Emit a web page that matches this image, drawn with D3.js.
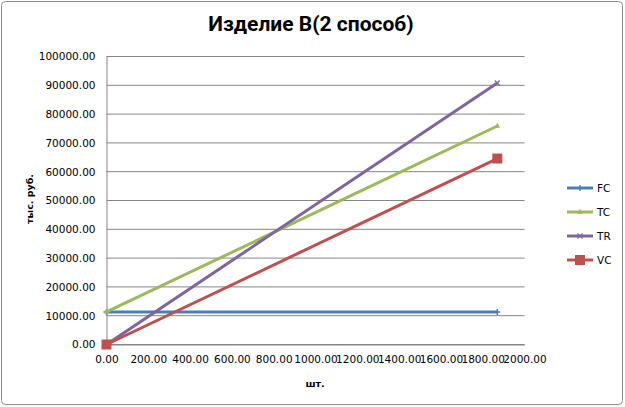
<!DOCTYPE html>
<html>
<head>
<meta charset="utf-8">
<script src="https://cdn.jsdelivr.net/npm/d3@7"></script>
<style>
  body { margin: 0; background: #fff; }
  text { fill: #000; }
</style>
</head>
<body>
<svg id="chart" width="625" height="407" font-family="DejaVu Sans, sans-serif"></svg>
<script>
// values
var quantities = [0, 1870];
var seriesNames = ['FC', 'TC', 'TR', 'VC'];
var fcValues = [11300, 11300];
var tcValues = [11300, 75870];
var trValues = [0, 90800];
var vcValues = [0, 64570];
var yTicks = [0, 10000, 20000, 30000, 40000, 50000, 60000, 70000, 80000, 90000, 100000];
var xTicks = [0, 200, 400, 600, 800, 1000, 1200, 1400, 1600, 1800, 2000];

var colors = { FC: '#4a7ebb', TC: '#9bbb59', TR: '#8064a2', VC: '#c0504d' };
var markers = { FC: 'plus', TC: 'triangle', TR: 'x', VC: 'square' };
var valuesOf = { FC: fcValues, TC: tcValues, TR: trValues, VC: vcValues };

var svg = d3.select('#chart');

// outer frame
svg.append('rect')
    .attr('x', 1.5).attr('y', 1.5)
    .attr('width', 621).attr('height', 403)
    .attr('rx', 4)
    .attr('fill', '#fff')
    .attr('stroke', '#8c8c8c');

var x = d3.scaleLinear().domain([0, 2000]).range([106.5, 524.5]);
var y = d3.scaleLinear().domain([0, 100000]).range([344.5, 56.5]);

// gridlines
svg.append('g').selectAll('line')
    .data(yTicks)
    .enter().append('line')
    .attr('x1', x(0)).attr('x2', x(2000))
    .attr('y1', function (d) { return y(d); })
    .attr('y2', function (d) { return y(d); })
    .attr('stroke', '#868686');

// y axis
var yAxis = d3.axisLeft(y)
    .tickValues(yTicks)
    .tickSize(0)
    .tickPadding(11)
    .tickFormat(d3.format('.2f'));
var gy = svg.append('g')
    .attr('transform', 'translate(' + x(0) + ',0)')
    .call(yAxis);
gy.select('.domain').attr('stroke', '#868686');
gy.attr('font-size', 10.5).attr('font-family', 'DejaVu Sans, sans-serif');

// x axis
var xAxis = d3.axisBottom(x)
    .tickValues(xTicks)
    .tickSize(0)
    .tickPadding(11)
    .tickFormat(d3.format('.2f'));
var gx = svg.append('g')
    .attr('transform', 'translate(0,' + y(0) + ')')
    .call(xAxis);
gx.select('.domain').attr('stroke', '#868686');
gx.attr('font-size', 10.5).attr('font-family', 'DejaVu Sans, sans-serif');

// markers
function drawMarker(g, type, cx, cy, color) {
    if (type === 'square') {
        g.append('rect')
            .attr('x', cx - 5).attr('y', cy - 5)
            .attr('width', 10).attr('height', 10)
            .attr('fill', color);
    } else if (type === 'triangle') {
        g.append('path')
            .attr('d', d3.symbol().type(d3.symbolTriangle).size(14)())
            .attr('transform', 'translate(' + cx + ',' + cy + ')')
            .attr('fill', color);
    } else if (type === 'plus') {
        g.append('path')
            .attr('d', 'M' + (cx - 3) + ',' + cy + 'H' + (cx + 3) + 'M' + cx + ',' + (cy - 3) + 'V' + (cy + 3))
            .attr('stroke', color).attr('stroke-width', 1.5);
    } else if (type === 'x') {
        g.append('path')
            .attr('d', 'M' + (cx - 2.5) + ',' + (cy - 2.5) + 'L' + (cx + 2.5) + ',' + (cy + 2.5) +
                'M' + (cx - 2.5) + ',' + (cy + 2.5) + 'L' + (cx + 2.5) + ',' + (cy - 2.5))
            .attr('stroke', color).attr('stroke-width', 1.2);
    }
}

var line = d3.line()
    .x(function (d, i) { return x(quantities[i]); })
    .y(function (d) { return y(d); });

var lines = svg.append('g');
seriesNames.forEach(function (name) {
    var vals = valuesOf[name];
    var g = lines.append('g');
    g.append('path')
        .attr('d', line(vals))
        .attr('fill', 'none')
        .attr('stroke', colors[name])
        .attr('stroke-width', 3);
    vals.forEach(function (v, i) {
        drawMarker(g, markers[name], x(quantities[i]), y(v), colors[name]);
    });
});

// legend
var legend = svg.append('g');
seriesNames.forEach(function (name, i) {
    var ly = 188 + i * 24;
    legend.append('line')
        .attr('x1', 567).attr('x2', 593)
        .attr('y1', ly).attr('y2', ly)
        .attr('stroke', colors[name])
        .attr('stroke-width', 3);
    drawMarker(legend, markers[name], 580, ly, colors[name]);
    legend.append('text')
        .attr('x', 597).attr('y', ly + 4)
        .attr('font-size', 10.5)
        .text(name);
});

// titles
svg.append('text')
    .attr('x', 311).attr('y', 31)
    .attr('text-anchor', 'middle')
    .style('font-family', 'Roboto, sans-serif')
    .style('font-weight', 'bold')
    .style('font-size', '21px')
    .text('Изделие В(2 способ)');

svg.append('text')
    .attr('transform', 'translate(33,199) rotate(-90)')
    .attr('text-anchor', 'middle')
    .attr('font-weight', 'bold')
    .attr('font-size', 9.5)
    .text('тыс.  руб.');

svg.append('text')
    .attr('x', 315).attr('y', 387)
    .attr('text-anchor', 'middle')
    .attr('font-weight', 'bold')
    .attr('font-size', 9.5)
    .text('шт.');
</script>
</body>
</html>
